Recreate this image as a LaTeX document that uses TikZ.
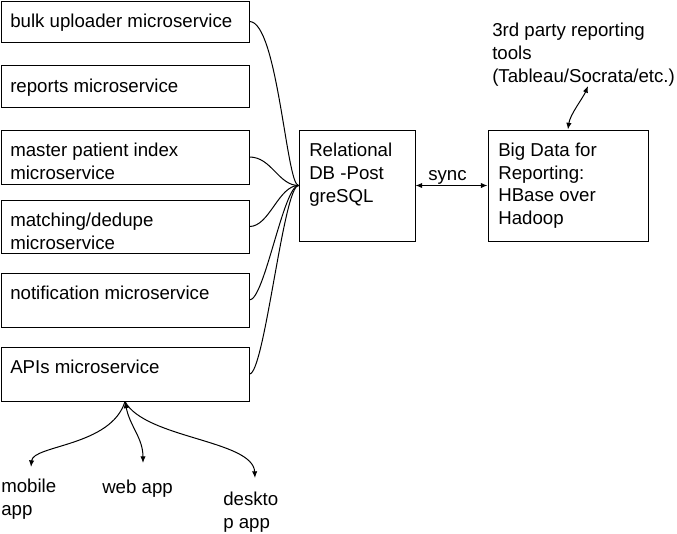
\documentclass[tikz,border=0pt]{standalone}
\usepackage{fontspec}
\setmainfont{Liberation Sans}
\usetikzlibrary{fit,arrows.meta}
\begin{document}
\begin{tikzpicture}[x=0.75pt,y=-0.75pt,
  box/.style={draw=black, line width=0.75pt, inner sep=0pt},
  txt/.style={anchor=base west, inner sep=0pt, align=left, font=\fontsize{14}{16.9}\selectfont},
  conn/.style={line width=0.75pt},
  tip/.style={-{Latex[length=5pt,width=4pt]}},
  both/.style={{Latex[length=5pt,width=4pt]}-{Latex[length=5pt,width=4pt]}}]
\useasboundingbox (0,0) rectangle (677,533);
% left column (multi-line texts are placed by the baseline of their last line)
\node[box, fit={(1,1) (249,42)}] (b1) {};
\node[txt] (t1) at (10,27) {bulk uploader microservice};
\node[box, fit={(1,65) (249,107)}] (b2) {};
\node[txt] (t2) at (10,92) {reports microservice};
\node[box, fit={(1,130) (249,184)}] (b3) {};
\node[txt] (t3) at (10,179.5) {master patient index\\microservice};
\node[box, fit={(1,200) (249,253)}] (b4) {};
\node[txt] (t4) at (10,249.5) {matching/dedupe\\microservice};
\node[box, fit={(1,273) (249,327)}] (b5) {};
\node[txt] (t5) at (10,299) {notification microservice};
\node[box, fit={(1,347) (249,401)}] (b6) {};
\node[txt] (t6) at (10,373) {APIs microservice};
% DB and big data
\node[box, fit={(299,130) (415,241)}] (db) {};
\node[txt] (tdb) at (309,202) {Relational\\DB -Post\\greSQL};
\node[box, fit={(488,130) (648,241)}] (big) {};
\node[txt] (tbig) at (498,224.5) {Big Data for\\Reporting:\\HBase over\\Hadoop};
\node[txt] (third) at (492,82) {3rd party reporting\\tools\\(Tableau/Socrata/etc.)};
\node[txt] (sync) at (428,180) {sync};
% apps
\node[txt] (mob) at (1,515.5) {mobile\\app};
\node[txt] (web) at (102,493) {web app};
\node[txt] (desk) at (223,528) {deskto\\p app};
\coordinate (thirdend) at (588,86);
\coordinate (mobend) at (31,467);
\coordinate (webend) at (143,463);
\coordinate (deskend) at (255,478);
% connectors to DB
\draw[conn] (b1.east) .. controls +(28,0) and +(-12,0) .. (db.west);
\draw[conn] (b3.east) .. controls +(22,0) and +(-20,0) .. (db.west);
\draw[conn] (b4.east) .. controls +(20,0) and +(-20,0) .. (db.west);
\draw[conn] (b5.east) .. controls +(15,0) and +(-15,0) .. (db.west);
\draw[conn] (b6.east) .. controls +(15,0) and +(-15,0) .. (db.west);
% sync
\draw[conn, both] (db.east) -- (big.west);
\draw[conn, both] (big.north) .. controls +(2,-15) and +(-5,12) .. (thirdend);
% apps
\draw[conn, both] (b6.south) .. controls +(5,25) and +(0,-25) .. (webend);
\draw[conn, tip] (b6.south) .. controls +(-14,45) and +(2,-22) .. (mobend);
\draw[conn, tip] (b6.south) .. controls +(20,37) and +(-2,-38) .. (deskend);
\end{tikzpicture}
\end{document}
